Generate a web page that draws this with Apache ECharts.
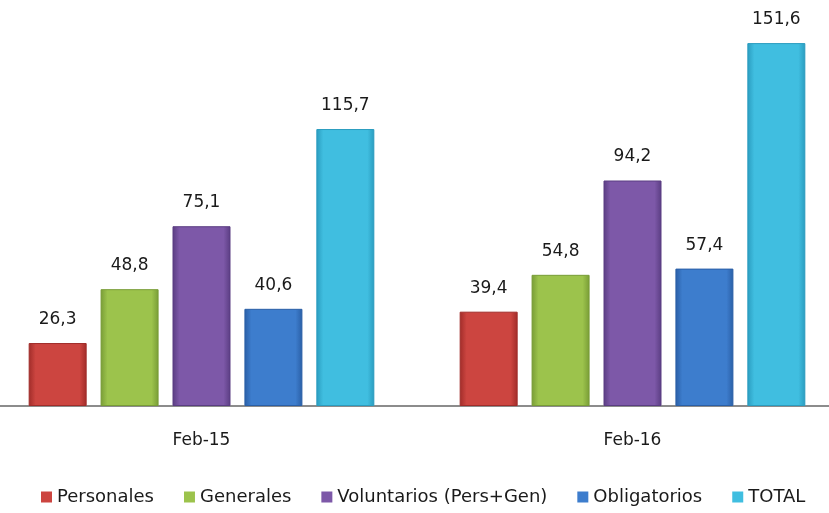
<!DOCTYPE html>
<html><head><meta charset="utf-8">
<script src="https://cdn.jsdelivr.net/npm/echarts@6/dist/echarts.min.js"></script>
<style>html,body{margin:0;padding:0;background:#fff;overflow:hidden;width:829px;height:513px;position:relative}#c{position:absolute;left:-14px;top:0;width:862px;height:513px}</style>
</head><body><div id="c"></div>
<script>
const categories = ['Feb-15', 'Feb-16'];
const seriesNames = ['Personales', 'Generales', 'Voluntarios (Pers+Gen)', 'Obligatorios', 'TOTAL'];
const personales = [26.3, 39.4];
const generales = [48.8, 54.8];
const voluntarios = [75.1, 94.2];
const obligatorios = [40.6, 57.4];
const total = [115.7, 151.6];
const seriesValues = [personales, generales, voluntarios, obligatorios, total];
const baseColors = [['#a02c29', '#cc4540'], ['#789c36', '#9cc34c'], ['#5a3d82', '#7d58a8'], ['#2a5fa6', '#3d7dcd'], ['#2a9cbf', '#40bee0']];

function grad(c) {
  return new echarts.graphic.LinearGradient(0, 0, 1, 0, [
    {offset: 0, color: c[0]}, {offset: 0.12, color: c[1]}, {offset: 0.88, color: c[1]}, {offset: 1, color: c[0]}
  ]);
}
const font = '"DejaVu Sans", sans-serif';
const chart = echarts.init(document.getElementById('c'));
chart.setOption({
  animation: false,
  grid: {left: 0, right: 0, top: 23, bottom: 107},
  legend: {
    bottom: 2, left: 50, icon: 'rect', itemWidth: 11, itemHeight: 11, itemGap: 30,
    textStyle: {fontFamily: font, fontSize: 18, color: '#1a1a1a'},
    data: seriesNames.map((n, i) => ({name: n, itemStyle: {color: baseColors[i][1], borderWidth: 0}}))
  },
  xAxis: {
    type: 'category', data: categories,
    axisLine: {lineStyle: {color: '#8c8c8c', width: 2}},
    axisTick: {show: false},
    axisLabel: {fontFamily: font, fontSize: 17, color: '#1a1a1a', margin: 26}
  },
  yAxis: {type: 'value', min: 0, max: 160, show: false, splitLine: {show: false}},
  series: seriesNames.map((n, i) => ({
    name: n, type: 'bar', data: seriesValues[i], barWidth: 58, barGap: '24%',
    itemStyle: {color: grad(baseColors[i]), borderColor: baseColors[i][0], borderWidth: 1},
    label: {show: true, position: 'top', distance: 15, fontFamily: font, fontSize: 17, color: '#1a1a1a',
      formatter: p => String(p.value).replace('.', ',')}
  }))
});
</script></body></html>
